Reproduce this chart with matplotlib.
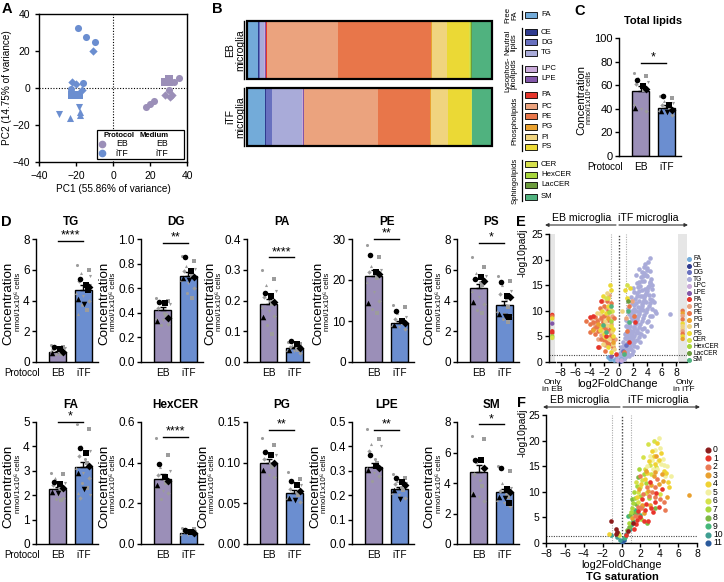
import matplotlib
matplotlib.use("Agg")
import matplotlib.pyplot as plt
from matplotlib.patches import Rectangle, FancyArrowPatch
from matplotlib.lines import Line2D
from matplotlib.ticker import FormatStrFormatter

plt.rcParams['font.family'] = ['Liberation Sans', 'DejaVu Sans']
plt.rcParams['font.size'] = 8
plt.rcParams['axes.linewidth'] = 1.0
plt.rcParams['xtick.major.width'] = 1.0
plt.rcParams['ytick.major.width'] = 1.0
plt.rcParams['xtick.major.size'] = 3
plt.rcParams['ytick.major.size'] = 3

# ---------------- DATA ----------------
C_EB = '#9b8fb8'
C_ITF = '#6b8ed0'

# Panel A (PCA)
pca_eb_x = [18, 20, 22, 28, 31, 32, 30, 28, 30, 30, 33, 35.5]
pca_eb_y = [-10, -8.5, -7, -4, -5, -4, -1, 3, 5, 3, 3, 5.5]
pca_eb_m = ['o', 'o', 'o', 'D', 'D', 'D', 'o', 's', 's', 's', 'o', 'o']
pca_itf_x = [-19, -14.5, -9.5, -11, -22, -20, -22.5, -16, -17, -22, -20, -18.5, -18.5, -18, -18, -29, -23]
pca_itf_y = [32.5, 27.5, 25, 20, 3.5, 2, -0.5, 2.5, -1, -4, -4, -4, -10, -13, -14.5, -14, -16]
pca_itf_m = ['o', 'o', 'o', 'D', 'D', 'D', 'o', 'o', 'D', 's', 's', 's', 'v', '^', '^', 'v', '^']

# Panel B (composition, % of total)
lipid_classes = ['FA', 'CE', 'DG', 'TG', 'LPC', 'LPE', 'PA', 'PC', 'PE', 'PG', 'PI', 'PS',
                 'CER', 'HexCER', 'LacCER', 'SM']
lipid_colors = ['#73abd9', '#2f3b8f', '#6870bf', '#a9abd9', '#c9aad9', '#8257a9', '#e5352b',
                '#eba37e', '#e8764a', '#e9a12f', '#f0d47f', '#ebd935', '#d6e04c', '#a7d63c',
                '#6b9b3d', '#50b27f']
eb_comp = [4.5, 0.3, 0.7, 1.5, 0.4, 0.3, 0.5, 29.3, 38.1, 0.3, 6.1, 9.3, 0.3, 0.4, 0.2, 8.4]
itf_comp = [7.6, 0.3, 2.3, 12.5, 0.3, 0.4, 0.2, 30.7, 21.5, 0.2, 7.3, 9.4, 0.2, 0.1, 0.1, 8.2]
legend_groups = [('Free\nFA', 0, 0), ('Neutral\nlipids', 1, 3), ('Lysophos-\npholipids', 4, 5),
                 ('Phospholipids', 6, 11), ('Sphingolipids', 12, 15)]

# Panel C (total lipids)
tot_eb_gray = [70, 68, 66, 63, 61, 59, 56, 44, 40, 38]
tot_eb_black = [64, 59, 57, 41]
tot_itf_gray = [51, 49, 47, 45, 43, 42, 40, 39, 37, 35]
tot_itf_black = [51, 43, 39, 38, 37]
tot_means = [55, 41]
tot_sem = [4, 2]

# Panel D
d_names = ['TG', 'DG', 'PA', 'PE', 'PS', 'FA', 'HexCER', 'PG', 'LPE', 'SM']
d_eb_means = [0.65, 0.42, 0.19, 21, 4.8, 2.25, 0.32, 0.10, 0.315, 4.75]
d_itf_means = [4.7, 0.70, 0.045, 9.5, 3.7, 3.15, 0.055, 0.063, 0.225, 3.4]
d_eb_sem = [0.08, 0.025, 0.014, 1.4, 0.3, 0.1, 0.025, 0.005, 0.015, 0.4]
d_itf_sem = [0.3, 0.03, 0.004, 0.6, 0.25, 0.2, 0.003, 0.003, 0.01, 0.2]
d_sig = ['****', '**', '****', '**', '*', '*', '****', '**', '**', '*']
d_sig_y = [7.87, 0.967, 0.34, 30, 7.76, 5.0, 0.528, 0.140, 0.467, 7.85]
d_ymax = [8, 1.0, 0.4, 30, 8, 5, 0.6, 0.15, 0.5, 8]
d_ystep = [2, 0.2, 0.1, 10, 2, 1, 0.2, 0.05, 0.1, 2]
d_fmt = ['%g', '%.1f', '%.1f', '%g', '%g', '%g', '%.1f', '%.2f', '%.1f', '%g']

TG_eb_gray = [1.1, 1.0, 0.95, 0.9, 0.85, 0.8, 0.75, 0.7, 0.65, 0.6, 0.55, 0.5]
TG_eb_black = [1.0, 0.85, 0.65, 0.6]
TG_itf_gray = [6.3, 6.0, 5.8, 5.6, 5.3, 5.1, 4.9, 4.5, 4.3, 4.0, 3.7, 3.4, 3.1, 5.0]
TG_itf_black = [5.4, 5.0, 4.9, 4.1, 3.8, 4.7]
DG_eb_gray = [0.52, 0.50, 0.49, 0.47, 0.44, 0.40, 0.38, 0.36, 0.34, 0.31, 0.30]
DG_eb_black = [0.49, 0.48, 0.36, 0.33]
DG_itf_gray = [0.86, 0.82, 0.78, 0.76, 0.74, 0.72, 0.70, 0.67, 0.64, 0.60, 0.56, 0.52]
DG_itf_black = [0.85, 0.74, 0.69, 0.68, 0.67]
PA_eb_gray = [0.30, 0.27, 0.25, 0.23, 0.21, 0.20, 0.19, 0.18, 0.165, 0.15, 0.12, 0.09]
PA_eb_black = [0.225, 0.215, 0.195, 0.145]
PA_itf_gray = [0.065, 0.06, 0.055, 0.05, 0.048, 0.045, 0.04, 0.038, 0.035, 0.03]
PA_itf_black = [0.068, 0.06, 0.045, 0.04]
PE_eb_gray = [28.5, 25.5, 23.5, 22.5, 22, 21.5, 20.5, 19.5, 17, 15, 13, 12]
PE_eb_black = [26, 22, 21.5, 14.5]
PE_itf_gray = [13.8, 13.5, 12, 11, 10.5, 10, 9.5, 9, 8.5, 8]
PE_itf_black = [12.5, 10, 9.5, 9]
PS_eb_gray = [6.8, 6.2, 5.8, 5.6, 5.4, 5.2, 5.0, 4.6, 4.2, 3.8, 3.4, 3.2]
PS_eb_black = [5.4, 5.5, 5.3, 3.9]
PS_itf_gray = [5.6, 5.3, 5.0, 4.6, 4.4, 4.1, 3.6, 3.3, 3.1, 3.0, 2.8, 2.6]
PS_itf_black = [5.2, 4.3, 4.2, 3.1, 3.0, 2.9]
FA_eb_gray = [2.9, 2.85, 2.7, 2.5, 2.4, 2.3, 2.2, 2.1, 2.0, 1.9, 1.85, 1.8]
FA_eb_black = [2.55, 2.45, 2.3, 2.15, 2.1]
FA_itf_gray = [4.9, 4.7, 4.0, 3.8, 3.6, 3.5, 3.3, 3.1, 2.9, 2.7, 2.5, 2.3, 2.1, 2.0, 1.9]
FA_itf_black = [3.95, 3.75, 3.2, 2.9, 2.25]
HexCER_eb_gray = [0.52, 0.44, 0.38, 0.36, 0.34, 0.32, 0.30, 0.28, 0.26, 0.25, 0.22]
HexCER_eb_black = [0.395, 0.33, 0.31, 0.29]
HexCER_itf_gray = [0.078, 0.074, 0.07, 0.066, 0.062, 0.058, 0.055, 0.05, 0.046]
HexCER_itf_black = [0.07, 0.06, 0.055]
PG_eb_gray = [0.13, 0.122, 0.115, 0.11, 0.105, 0.10, 0.095, 0.09, 0.085, 0.082]
PG_eb_black = [0.113, 0.110, 0.099, 0.091]
PG_itf_gray = [0.088, 0.08, 0.076, 0.072, 0.068, 0.064, 0.06, 0.057, 0.055, 0.052]
PG_itf_black = [0.077, 0.072, 0.065, 0.056, 0.054]
LPE_eb_gray = [0.47, 0.43, 0.41, 0.40, 0.38, 0.35, 0.33, 0.31, 0.29, 0.28, 0.26]
LPE_eb_black = [0.365, 0.32, 0.31, 0.305]
LPE_itf_gray = [0.285, 0.27, 0.26, 0.25, 0.245, 0.235, 0.22, 0.21, 0.20, 0.19]
LPE_itf_black = [0.27, 0.255, 0.24, 0.22, 0.185]
SM_eb_gray = [7.1, 6.9, 5.4, 5.0, 4.6, 4.2, 3.8, 3.4, 3.1, 2.8]
SM_eb_black = [5.5, 5.5, 5.0, 3.3]
SM_itf_gray = [5.1, 4.8, 4.0, 3.7, 3.5, 3.3, 3.1, 2.9, 2.7, 2.5]
SM_itf_black = [5.0, 3.6, 3.4, 3.1, 3.0, 2.7]

d_points = [
    (TG_eb_gray, TG_eb_black, TG_itf_gray, TG_itf_black),
    (DG_eb_gray, DG_eb_black, DG_itf_gray, DG_itf_black),
    (PA_eb_gray, PA_eb_black, PA_itf_gray, PA_itf_black),
    (PE_eb_gray, PE_eb_black, PE_itf_gray, PE_itf_black),
    (PS_eb_gray, PS_eb_black, PS_itf_gray, PS_itf_black),
    (FA_eb_gray, FA_eb_black, FA_itf_gray, FA_itf_black),
    (HexCER_eb_gray, HexCER_eb_black, HexCER_itf_gray, HexCER_itf_black),
    (PG_eb_gray, PG_eb_black, PG_itf_gray, PG_itf_black),
    (LPE_eb_gray, LPE_eb_black, LPE_itf_gray, LPE_itf_black),
    (SM_eb_gray, SM_eb_black, SM_itf_gray, SM_itf_black),
]

# Panel E (volcano, lipid classes) (log2FC, -log10padj)
E_TG = [(0.1,0.3),(0.2,0.6),(0.3,1.0),(0.4,0.4),(0.5,1.4),(0.6,0.8),(0.7,1.8),(0.8,1.2),(0.9,2.4),
        (1.0,1.6),(1.1,3.0),(1.2,2.0),(1.3,3.6),(1.4,2.6),(1.5,4.2),(1.6,3.2),(1.7,5.0),(1.8,3.8),
        (1.9,5.8),(2.0,4.4),(2.1,6.6),(2.2,5.0),(2.3,7.4),(2.4,5.6),(2.5,8.2),(2.6,6.2),(2.7,9.0),
        (2.8,6.8),(2.9,9.8),(3.0,7.4),(3.1,10.6),(3.2,8.0),(3.3,11.4),(3.4,8.6),(3.5,12.2),(3.6,9.2),
        (3.7,13.0),(3.8,9.8),(3.9,13.8),(4.0,10.4),(4.1,14.6),(4.2,11.0),(4.3,15.4),(4.4,11.6),
        (4.5,16.2),(4.6,12.2),(4.7,9.0),(4.8,13.0),(5.0,10.0),(5.2,9.5),(0.5,2.6),(0.7,3.4),
        (0.9,4.6),(1.1,5.6),(1.3,6.8),(1.5,7.6),(1.7,8.8),(1.9,10.0),(2.1,11.2),(2.3,12.4),
        (2.5,13.4),(2.7,14.6),(2.9,15.6),(3.1,16.6),(3.3,17.6),(3.5,18.6),(3.7,19.2),(3.9,18.0),
        (4.1,19.6),(4.3,20.4),(3.2,14.0),(2.8,12.0),(2.4,10.0),(2.0,8.4),(1.6,6.0),(1.2,4.4),
        (0.8,3.0),(3.6,15.8),(4.0,16.8),(4.4,17.8),(1.0,7.0),(1.4,9.4),(1.8,11.6),(2.2,13.6),
        (2.6,15.4),(3.0,12.8),(3.4,10.2),(3.8,11.8),(4.2,13.0),(4.6,14.2),(1.5,1.2),(2.0,2.2),
        (2.5,3.0),(3.0,4.0),(3.5,5.0),(4.0,6.0),(4.5,7.0),(2.8,4.8),(3.3,6.4),(3.9,7.8),(4.4,9.0),
        (1.9,1.6),(7.1,9.3),(-0.1,0.4),(-0.3,0.8),(-0.2,1.4),(0.3,2.0),(0.2,1.6),(0.6,4.0),
        (0.4,3.0),(0.9,5.4),(1.1,8.2),(1.3,10.4),(1.7,12.6),(2.0,14.5),(2.4,17.0),(2.9,18.2),
        (0.3,0.2),(0.5,0.5),(0.7,0.6),(0.9,0.9),(1.1,1.2),(1.3,1.5),(0.6,1.2),(0.8,1.9),(1.0,2.7),
        (1.2,3.3),(1.4,4.0),(1.6,4.7),(1.8,5.3),(2.0,6.1),(2.2,6.9),(2.4,7.7),(2.6,8.6),(2.8,9.4),
        (3.0,10.2),(3.2,11.0),(3.4,11.8),(3.6,12.6),(3.8,13.4),(4.0,14.2),(4.2,14.9),(4.4,15.6),
        (1.2,5.0),(1.4,6.4),(1.6,7.0),(1.8,8.2),(2.0,9.6),(2.2,10.4),(2.4,11.6),(2.6,12.8),
        (2.8,13.8),(3.0,14.8),(3.2,15.8),(3.4,16.8),(3.6,17.4),(3.8,17.0),(4.0,18.4),(2.1,3.2),
        (2.6,4.2),(3.1,5.4),(3.6,6.6),(4.1,8.0),(4.6,10.4),(4.9,11.8),(0.4,1.8),(0.6,2.9),
        (1.5,5.6),(2.3,8.9),(2.7,10.8),(3.3,12.8),(3.7,14.3),(4.3,12.4),(4.7,15.0),(1.7,2.5),
        (2.2,3.9),(2.9,5.6)]
E_PE = [(-1.5,10),(-2,9),(-2.5,8.5),(-3,8),(-3.5,7.8),(-4,7.5),(-4.5,8),(-1.8,7),(-2.2,6.5),(-2.8,6),
        (-3.2,5.5),(-1.2,5),(-0.8,3),(-1.6,4),(-2.4,4.5),(-3.6,6.5),(-2,11),(-1.6,12),(1.5,11),
        (2.2,9),(1.2,6),(0.7,2),(-0.6,8.5),(-1.0,11.5),(-2.7,3),(-1.9,2.2),(-3.9,5.8),(-2.9,7.0),
        (-2.1,7.8),(-1.4,8.2),(-3.3,8.8),(-2.6,10.5),(-1.2,6.5),(-0.9,4.6),(-1.7,6.2),(-3.1,6.8),
        (-2.0,4.2),(-1.3,3.5)]
E_PC = [(-1.3,13),(-1.7,10.5),(-2.1,8),(-2.6,7.2),(-3.3,7),(-0.9,9),(-1.4,6),(-2.9,4.5),(-0.5,4.5),
        (1.0,8.5),(1.8,12),(-3.8,8.5),(-2.3,12),(-1.1,7.5),(-2.5,5.2),(-1.9,3.4),(-2.4,9.2),
        (-1.6,9.2),(-2.9,8.2),(-1.1,5.8),(-3.4,7.6),(-2.0,6.8)]
E_PS = [(-1.2,15),(-1.0,14),(-1.4,11),(-1.8,9.5),(-2.3,10),(-1.0,7),(-0.7,5),(-1.5,3),(-2,5.5),
        (0.9,14),(1.6,14.5),(1.2,12.5),(-1.1,2),(-2.6,6.3),(-1.5,12.5),(-2.1,12.8),(-0.8,6.5),
        (-1.9,4.8),(-2.4,7.0)]
E_PI = [(-1.6,13.5),(-2.6,9.5),(-0.9,6),(-1.9,8),(-1.3,4.5),(-2.2,3.5),(0.5,10),(-3.0,9.5),(-0.6,2.5),
        (-1.2,10.5),(-2.3,6.0),(-1.6,7.2),(-0.7,3.5)]
E_PA = [(-2.5,12),(-3.6,9),(-4.0,8.7),(-2.8,3),(1.4,4),(-1.7,5),(2.3,7.8),(-0.4,1.5)]
E_PG = [(-1.5,8.5),(-2.8,7.5),(-0.8,4),(-3.5,6.2)]
E_CER = [(-1.8,12.5),(-0.9,10),(1.2,15)]
E_HexCER = [(-1.3,9.8),(-1.0,8)]
E_LacCER = [(1.3,12)]
E_SM = [(-1.0,11),(-1.8,5.8),(1.3,10),(0.7,1.5),(-2.2,7.3),(1.5,7.8)]
E_LPC = [(-0.2,0.3),(0.3,0.3)]
E_LPE = [(-1.0,1.2)]
E_FA = [(-1.5,1.0),(-0.6,0.3),(0.4,0.6),(-1.2,0.5)]
E_DG = [(0.6,2.2),(1.0,3.3)]
E_CE = [(0.2,0.2)]
only_eb_y = [9.2, 8.9, 8.5, 7.5, 6.0, 5.7, 5.0, 4.7]
only_eb_cls = ['PA', 'PE', 'PS', 'LPE', 'PA', 'PA', 'HexCER', 'CER']
only_itf_y = [10.0, 9.5, 9.0, 8.3, 7.5, 7.0, 6.5, 6.0, 5.5, 5.0, 4.5]
only_itf_cls = ['PE', 'PG', 'PC', 'PE', 'PS', 'PI', 'PI', 'PC', 'PE', 'PS', 'PG']

# Panel F (TG saturation)
sat_labels = ['0', '1', '2', '3', '4', '5', '6', '7', '8', '9', '10', '11']
sat_colors = ['#8b1c1c', '#e8352b', '#ea7a55', '#e9a02e', '#f0d232', '#f2f0a0', '#d5e24a',
              '#a9d83c', '#7cb843', '#44b77a', '#3e9e92', '#2a5a9c']
F_0 = [(-1.1,4.3),(-0.6,2.8),(-0.5,2.2),(-0.6,1.8),(1.2,4),(0.7,2.4)]
F_1 = [(1.5,3.8),(2,5),(2.5,6.5),(3.5,8),(4,7),(1.8,6.2),(2.8,4.3),(3.3,6),(1.3,2.7),(3.0,12),
       (2.2,8.5),(4.3,10.5),(0.5,1.5),(2.4,4.2),(3.1,6.8),(1.6,4.4),(3.7,9.8),(2.6,7.6)]
F_2 = [(1.7,7),(2.3,9.5),(2.7,11),(3.2,10),(3.6,9),(4.5,8),(1.4,5.3),(3.8,12.5),(2.0,13),(4.6,6.5),
       (2.1,6.8),(2.9,9.2),(3.5,11),(4.1,8.5),(1.8,5.2)]
F_3 = [(7.1,9.3),(2.6,14),(3.4,13),(4.0,11.5),(3.0,7.5),(1.9,10.5),(4.8,9),(2.4,5.8),(1.1,4.8),
       (3.7,17),(4.3,13.5),(3.1,11.4),(3.6,13.8),(2.2,7.4),(4.4,12.2),(2.8,10.2)]
F_4 = [(3.2,18),(3.8,19.5),(4.2,17.5),(2.9,16),(4.5,14),(3.5,15.5),(2.5,12.5),(1.6,9),(4.9,12),
       (-1.3,1.8),(2.1,11.5),(5.0,11),(3.4,17),(4.0,16.2),(2.7,13.6),(4.7,13.6)]
F_5 = [(4.0,20.5),(3.6,18.2),(3.0,17),(4.4,16.5),(4.8,15),(3.3,14.5),(4.2,15.5),(3.9,16),(2.7,15),
       (5.2,13),(4.6,13),(3.2,16.2),(4.1,18.5),(4.5,15.2),(3.8,14.4)]
F_6 = [(2.8,19.3),(3.4,20),(2.3,16.8),(3.1,13.5),(2.0,11),(3.7,14.8),(1.8,8),(2.6,9.8),(4.1,9.5),
       (1.5,12),(-0.3,1.5),(2.5,14.5),(3.0,15.2),(1.7,10),(2.2,12.4)]
F_7 = [(1.3,10),(1.9,14.5),(2.4,13.5),(1.0,6),(1.6,11.2),(2.9,8.8),(0.8,4),(-0.4,2),(2.1,4.6),(1.2,7.8),
       (1.4,8.8),(2.0,9.2),(1.1,6.9),(2.6,11.8)]
F_8 = [(1.1,8.5),(1.5,7.6),(0.9,5.5),(2.7,4),(1.7,12.8),(0.6,2.5),(3.6,6.8),(1.3,5.8),(2.2,7.2),(0.8,3.2)]
F_9 = [(1.0,3.5),(0.7,5.2),(1.4,6.5),(2.0,5.5),(0.4,1.2),(1.2,4.2),(1.6,5.8)]
F_10 = [(-1.1,1.5),(0.5,1.8),(0.9,2.8),(-0.2,0.5),(0.3,1.0),(-0.5,1.2)]
F_11 = [(0.1,0.2),(0.3,0.6)]

# ---------------- FIGURE ----------------
W, H = 724, 582
fig = plt.figure(figsize=(W / 100, H / 100), dpi=100)


def pax(l, t, r, b):
    return fig.add_axes([l / W, 1 - b / H, (r - l) / W, (b - t) / H])


def ftxt(x, y, s, **kw):
    return fig.text(x / W, 1 - y / H, s, **kw)


def fline(xs, ys, **kw):
    fig.add_artist(Line2D([x / W for x in xs], [1 - y / H for y in ys],
                          transform=fig.transFigure, **kw))


def farrow(x0, x1, y):
    fig.add_artist(FancyArrowPatch((x0 / W, 1 - y / H), (x1 / W, 1 - y / H),
                                   transform=fig.transFigure, arrowstyle='-|>', mutation_scale=5,
                                   lw=0.8, color='#333333', shrinkA=0, shrinkB=0))


# panel letters
for lt, (x, y) in zip('ABCDEF', [(7, 9), (217, 9), (580, 11), (6, 222), (521, 222), (521, 403)]):
    ftxt(x, y, lt, fontsize=10.5, fontweight='bold', ha='center', va='center')

# ---- A ----
axA = pax(39, 14, 187, 162)
for x, y, m in zip(pca_eb_x, pca_eb_y, pca_eb_m):
    axA.scatter(x, y, marker=m, s=26 if m != 'D' else 18, color=C_EB, lw=0, zorder=3)
for x, y, m in zip(pca_itf_x, pca_itf_y, pca_itf_m):
    axA.scatter(x, y, marker=m, s=26 if m != 'D' else 18, color=C_ITF, lw=0, zorder=3)
axA.set_xlim(-40, 40)
axA.set_ylim(-40, 40)
axA.set_xticks([-40, -20, 0, 20, 40])
axA.set_yticks([-40, -20, 0, 20, 40])
axA.axvline(0, color='k', ls=(0, (1, 1.5)), lw=0.8)
axA.axhline(0, color='k', ls=(0, (1, 1.5)), lw=0.8)
axA.tick_params(labelsize=7.5)
axA.set_xlabel('PC1 (55.86% of variance)', fontsize=7.2, labelpad=2)
axA.set_ylabel('PC2 (14.75% of variance)', fontsize=7.2, labelpad=0)
fig.add_artist(Rectangle((97 / W, 1 - 159 / H), 87 / W, 29 / H, transform=fig.transFigure,
                         facecolor='white', edgecolor='k', lw=0.9, zorder=5))
ftxt(119, 135, 'Protocol', fontsize=5.6, fontweight='bold', ha='center', va='center', zorder=6)
ftxt(154, 135, 'Medium', fontsize=5.6, fontweight='bold', ha='center', va='center', zorder=6)
for yy, lab, col in [(144, 'EB', C_EB), (153, 'iTF', C_ITF)]:
    fig.add_artist(Line2D([102 / W], [1 - yy / H], marker='o', ms=4.5, color=col, ls='none',
                          transform=fig.transFigure, zorder=6))
    ftxt(122, yy, lab, fontsize=6.3, ha='center', va='center', zorder=6)
    ftxt(162, yy, lab, fontsize=6.3, ha='center', va='center', zorder=6)

# ---- B ----
axB = pax(247, 21, 492, 146)
for row, comp in enumerate([eb_comp, itf_comp]):
    tot = sum(comp)
    left = 0
    for cls, v, col in zip(lipid_classes, comp, lipid_colors):
        w = v / tot * 100
        axB.barh(row, w, left=left, height=0.866, color=col, lw=0)
        left += w
    axB.add_patch(Rectangle((0, row - 0.433), 100, 0.866, fill=False, ec='k', lw=1.6, clip_on=False))
axB.set_xlim(0, 100)
axB.set_ylim(1.433, -0.433)
axB.axis('off')
for yc, yt, yb, lab in [(50, 21, 79, 'EB\nmicroglia'), (117, 88, 146, 'iTF\nmicroglia')]:
    ftxt(235, yc, lab, rotation=90, fontsize=7.5, ha='center', va='center', linespacing=1.0)
    fline([244, 244], [yt, yb], color='k', lw=1.0)

leg_y = [15, 32, 42, 53, 69, 79, 95, 106, 116, 127, 137, 147, 164, 175, 185, 197]
for cls, col, yy in zip(lipid_classes, lipid_colors, leg_y):
    fig.add_artist(Rectangle((525 / W, 1 - (yy + 2.8) / H), 12 / W, 5.6 / H, transform=fig.transFigure,
                             facecolor=col, edgecolor='k', lw=0.6))
    ftxt(541, yy, cls, fontsize=5.6, ha='left', va='center')
for lab, i0, i1 in legend_groups:
    y0, y1 = leg_y[i0] - 4, leg_y[i1] + 4
    fline([522, 522], [y0, y1], color='k', lw=0.9)
    xx = 515 if '\n' not in lab else 511
    ftxt(xx, (y0 + y1) / 2, lab, rotation=90, fontsize=5.6, ha='center', va='center', linespacing=1.0)


# ---- bar panels ----
OFF_G = [-0.24, 0.2, -0.1, 0.27, -0.18, 0.06, 0.15, -0.27, 0.0, 0.23, -0.05, 0.12, -0.2, 0.25, -0.12]
OFF_B = [-0.12, 0.1, 0.22, -0.2, 0.02, 0.18]
M_G = ['o', 's', '^', 'v', 'D']
M_B = ['o', 's', 'D', '^', 'v', 's']
bar_axes = []


def bar_panel(l, t, b, title, means, sems, pts, ymax, ystep, fmt, sig, sig_y, protocol,
              tick_fs, title_fs, clab_fs, ulab_fs):
    ax = pax(l, t, l + 62, b)
    ax.bar([0, 1], means, width=0.65, color=[C_EB, C_ITF], edgecolor='k', lw=1.0, zorder=1)
    ax.errorbar([0, 1], means, yerr=[[0, 0], sems], fmt='none', ecolor='k', elinewidth=1.0,
                capsize=2.5, capthick=1.0, zorder=2)
    eb_g, eb_b, itf_g, itf_b = pts
    for xi, gray, black in [(0, eb_g, eb_b), (1, itf_g, itf_b)]:
        for j, v in enumerate(gray):
            ax.scatter(xi + OFF_G[j % len(OFF_G)], v, marker=M_G[j % len(M_G)], s=5,
                       color='#9c9c9c', lw=0, zorder=3, clip_on=False)
        for j, v in enumerate(black):
            ax.scatter(xi + OFF_B[j % len(OFF_B)], v, marker=M_B[j % len(M_B)], s=16,
                       color='k', lw=0, zorder=4, clip_on=False)
    ax.set_xlim(-0.83, 1.56)
    ax.set_ylim(0, ymax)
    n = int(round(ymax / ystep))
    ax.set_yticks([i * ystep for i in range(n + 1)])
    ax.yaxis.set_major_formatter(FormatStrFormatter(fmt))
    ax.spines['top'].set_visible(False)
    ax.spines['right'].set_visible(False)
    ax.set_xticks([0, 1])
    ax.set_xticklabels(['EB', 'iTF'])
    ax.tick_params(axis='x', length=0, pad=4, labelsize=7.3)
    ax.tick_params(axis='y', labelsize=tick_fs, pad=1.5)
    ax.plot([0, 1], [sig_y, sig_y], color='k', lw=1.0, clip_on=False)
    ax.annotate(sig, xy=(0.5, sig_y), xycoords='data', xytext=(0, -0.5), textcoords='offset points',
                ha='center', va='bottom', fontsize=9)
    ax.annotate(title, xy=(0.5, 1), xycoords=('data', 'axes fraction'), xytext=(0, 12.5),
                textcoords='offset points', ha='center', va='center', fontsize=title_fs,
                fontweight='bold')
    if protocol:
        ax.annotate('Protocol', xy=(0, 0), xycoords='axes fraction', xytext=(3, -4.5),
                    textcoords='offset points', ha='right', va='top', fontsize=7)
    bar_axes.append((ax, clab_fs, ulab_fs))
    return ax


# C
bar_panel(619, 38, 156, 'Total lipids', tot_means, tot_sem,
          (tot_eb_gray, tot_eb_black, tot_itf_gray, tot_itf_black),
          100, 20, '%g', '*', 79, True, 8, 8, 8, 5.2)

d_lefts = [36, 141, 247, 352, 457]
for i, name in enumerate(d_names):
    row = i // 5
    col = i % 5
    t, b = (239, 362) if row == 0 else (422, 544)
    bar_panel(d_lefts[col], t, b, name, [d_eb_means[i], d_itf_means[i]],
              [d_eb_sem[i], d_itf_sem[i]], d_points[i], d_ymax[i], d_ystep[i], d_fmt[i],
              d_sig[i], d_sig_y[i], col == 0, 8.5, 8.5, 9.6, 5.8)


# ---- volcano helper ----
def volcano_common(ax, xlim):
    ax.set_xlim(*xlim)
    ax.set_ylim(0, 25)
    ax.set_yticks([0, 5, 10, 15, 20, 25])
    ax.set_xticks([-8, -6, -4, -2, 0, 2, 4, 6, 8])
    ax.spines['top'].set_visible(False)
    ax.spines['right'].set_visible(False)
    ax.tick_params(labelsize=7.5, pad=1.5)
    ax.axvline(0, color='#444444', ls=(0, (1, 1.2)), lw=1.0, zorder=1)
    ax.axvline(-1, color='#aaaaaa', ls=(0, (1, 1.2)), lw=0.8, zorder=1)
    ax.axvline(1, color='#aaaaaa', ls=(0, (1, 1.2)), lw=0.8, zorder=1)
    ax.axhline(1.3, color='#444444', ls=(0, (1, 1.2)), lw=0.8, zorder=1)


# ---- E ----
axE = pax(549, 234, 687, 362)
volcano_common(axE, (-9.65, 9.5))
axE.axvspan(-9.65, -8.8, color='#e6e6e6', lw=0, zorder=0)
axE.axvspan(8.3, 9.5, color='#e6e6e6', lw=0, zorder=0)
axE.spines['bottom'].set_bounds(-8.55, 8.15)
for x0, x1 in [(-9.6, -8.85), (8.35, 9.45)]:
    axE.plot([x0, x1], [0, 0], color='k', lw=1.0, clip_on=False)
cmap = dict(zip(lipid_classes, lipid_colors))
e_sets = [('TG', E_TG), ('FA', E_FA), ('CE', E_CE), ('DG', E_DG), ('LPC', E_LPC), ('LPE', E_LPE),
          ('PC', E_PC), ('PE', E_PE), ('PI', E_PI), ('PS', E_PS), ('PG', E_PG), ('PA', E_PA),
          ('CER', E_CER), ('HexCER', E_HexCER), ('LacCER', E_LacCER), ('SM', E_SM)]
for cls, pts in e_sets:
    axE.scatter([p[0] for p in pts], [p[1] for p in pts], s=11, color=cmap[cls], lw=0, zorder=3,
                clip_on=False)
axE.scatter([-9.2] * len(only_eb_y), only_eb_y, s=10, color=[cmap[c] for c in only_eb_cls], lw=0, zorder=3)
axE.scatter([8.9] * len(only_itf_y), only_itf_y, s=10, color=[cmap[c] for c in only_itf_cls], lw=0, zorder=3)
ftxt(617, 384, 'log2FoldChange', fontsize=7.8, ha='center', va='center')
ftxt(552, 386, 'Only\nin EB', fontsize=6.1, ha='center', va='center', linespacing=0.95)
ftxt(684, 386, 'Only\nin iTF', fontsize=6.1, ha='center', va='center', linespacing=0.95)
ftxt(523, 253, '-log10padj', fontsize=7.5, rotation=90, ha='center', va='center')
for cls, yy in zip(lipid_classes, [259 + 6.73 * k for k in range(16)]):
    fig.add_artist(Line2D([689 / W], [1 - yy / H], marker='o', ms=2.6, color=cmap[cls], ls='none',
                          transform=fig.transFigure))
    ftxt(693, yy, cls, fontsize=4.8, ha='left', va='center')
ftxt(582, 218, 'EB microglia', fontsize=7.6, ha='center', va='center')
ftxt(648, 218, 'iTF microglia', fontsize=7.6, ha='center', va='center')
farrow(616, 545, 225)
farrow(619, 688, 225)

# ---- F ----
axF = pax(546, 415, 697, 543)
volcano_common(axF, (-8, 8))
f_sets = [F_11, F_10, F_9, F_8, F_7, F_6, F_5, F_4, F_3, F_2, F_1, F_0]
for k, pts in zip(range(11, -1, -1), f_sets):
    axF.scatter([p[0] for p in pts], [p[1] for p in pts], s=11, color=sat_colors[k], lw=0, zorder=3)
ftxt(622, 565, 'log2FoldChange', fontsize=7.8, ha='center', va='center')
ftxt(622, 577, 'TG saturation', fontsize=8, fontweight='bold', ha='center', va='center')
ftxt(523, 433, '-log10padj', fontsize=7.5, rotation=90, ha='center', va='center')
for k, yy in zip(range(12), [450 + 8.45 * k for k in range(12)]):
    fig.add_artist(Line2D([708 / W], [1 - yy / H], marker='o', ms=3.4, color=sat_colors[k], ls='none',
                          transform=fig.transFigure))
    ftxt(713, yy, sat_labels[k], fontsize=6.2, ha='left', va='center')
ftxt(580, 400, 'EB microglia', fontsize=7.6, ha='center', va='center')
ftxt(658, 400, 'iTF microglia', fontsize=7.6, ha='center', va='center')
farrow(620, 543, 407)
farrow(623, 700, 407)

# ---- y labels for bar panels, placed left of tick labels ----
fig.canvas.draw()
rend = fig.canvas.get_renderer()
for ax, cfs, ufs in bar_axes:
    bb = ax.yaxis.get_tightbbox(rend)
    ext = ax.get_window_extent()
    yc = ext.y0 + ext.height / 2
    x0 = bb.x0
    fig.text((x0 - ufs * 0.55 - 1.5) / W, (yc - 1) / H, 'nmol/1x10\u2076 cells', rotation=90,
             fontsize=ufs, ha='center', va='center')
    fig.text((x0 - ufs * 1.1 - 2 - cfs * 0.62) / W, (yc - 3) / H, 'Concentration', rotation=90,
             fontsize=cfs, ha='center', va='center')

fig.savefig('out.png', dpi=100)
